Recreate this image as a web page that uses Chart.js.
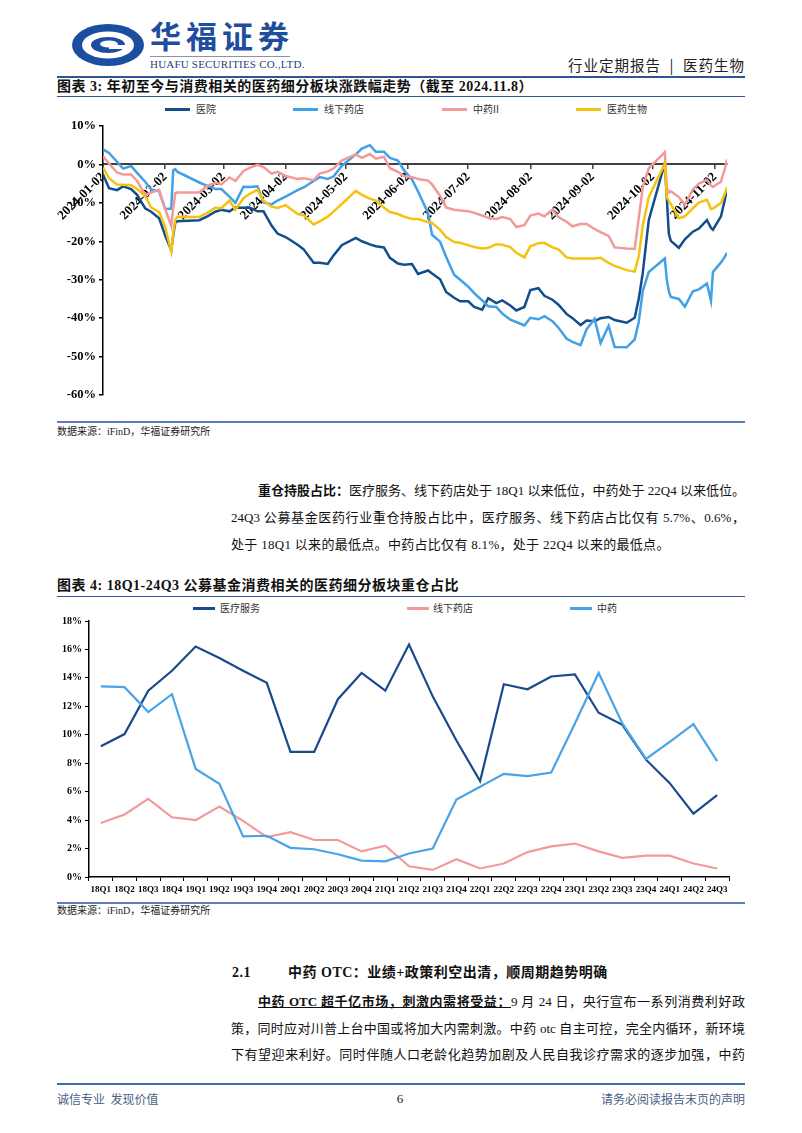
<!DOCTYPE html>
<html lang="zh-CN">
<head>
<meta charset="utf-8">
<title>医药生物 行业定期报告</title>
<script src="https://cdn.jsdelivr.net/npm/chart.js@4.4.1/dist/chart.umd.min.js"></script>
<style>
  body { margin: 0; background: #fff; }
  #page { position: relative; width: 802px; height: 1133px; overflow: hidden; background: #fff;
          font-family: "Liberation Serif", "Noto Sans CJK SC", serif; color: #111; }
  .t { position: absolute; white-space: nowrap; }
  .rule { position: absolute; left: 57px; width: 688px; background: #2f5597; }
  .cap { font-weight: 700; font-size: 14px; line-height: 18px; letter-spacing: 0.5px; }
  .lg { position: absolute; font-family: "Noto Sans CJK SC", sans-serif; font-size: 10px; line-height: 12px; color: #333; white-space: nowrap; }
  .lgline { position: absolute; height: 3px; }
  .src { font-size: 10px; line-height: 12px; color: #222; }
  .body { position: absolute; font-size: 13px; line-height: 18px; white-space: nowrap;
          text-align: justify; text-align-last: justify; }
  .foot { font-family: "Noto Sans CJK SC", sans-serif; font-size: 12px; line-height: 14px; color: #4a5f85; }
  canvas { position: absolute; }
</style>
</head>
<body>
<div id="page">
  <!-- header -->
  <svg class="t" style="left:71px;top:23px" width="74" height="44" viewBox="0 0 74 44">
    <ellipse cx="37" cy="22" rx="36" ry="21" fill="#1b4e9e"/>
    <ellipse cx="37" cy="22" rx="26" ry="13.5" fill="#fff"/>
    <ellipse cx="37" cy="22" rx="17" ry="8" fill="#1b4e9e"/>
    <ellipse cx="38" cy="21" rx="9" ry="3.5" fill="#fff"/>
    <rect x="38" y="22" width="16" height="4" fill="#fff"/>
  </svg>
  <div class="t" style="left:150px;top:17px;font-family:'Noto Sans CJK SC';font-weight:700;font-size:31px;line-height:36px;letter-spacing:5px;color:#1f4e9e">华福证券</div>
  <div class="t" style="left:150px;top:56px;width:140px;height:1px;background:#8a94a8"></div>
  <div class="t" style="left:150px;top:58px;font-size:11px;line-height:12px;letter-spacing:0.2px;color:#1f3f7f">HUAFU SECURITIES CO.,LTD.</div>
  <div class="t" style="left:545px;top:56px;width:200px;text-align:right;font-family:'Noto Sans CJK SC';font-size:14.5px;line-height:18px;letter-spacing:1px;color:#222">行业定期报告 &nbsp;|&nbsp; 医药生物</div>
  <div class="rule" style="top:76px;height:2px"></div>

  <!-- chart 3 -->
  <div class="t cap" style="left:57px;top:78px">图表 3: 年初至今与消费相关的医药细分板块涨跌幅走势（截至 2024.11.8）</div>
  <div class="rule" style="top:96px;height:1px"></div>
  <div class="lgline" style="left:165px;top:108px;width:25px;background:#124e8c"></div>
  <div class="lg" style="left:196px;top:103px">医院</div>
  <div class="lgline" style="left:293px;top:108px;width:25px;background:#41a0e6"></div>
  <div class="lg" style="left:324px;top:103px">线下药店</div>
  <div class="lgline" style="left:442px;top:108px;width:25px;background:#f29a9a"></div>
  <div class="lg" style="left:473px;top:103px">中药II</div>
  <div class="lgline" style="left:576px;top:108px;width:25px;background:#f5c211"></div>
  <div class="lg" style="left:607px;top:103px">医药生物</div>
  <canvas id="c1" width="690" height="295" style="left:55px;top:112px"></canvas>
  <div class="rule" style="top:421px;height:1.5px;background:#5b7fb5"></div>
  <div class="t src" style="left:57px;top:426px">数据来源：iFinD，华福证券研究所</div>

  <!-- paragraph -->
  <div class="body" style="left:258px;top:482px;width:487px"><b>重仓持股占比：</b>医疗服务、线下药店处于 18Q1 以来低位，中药处于 22Q4 以来低位。</div>
  <div class="body" style="left:231px;top:509px;width:514px">24Q3 公募基金医药行业重仓持股占比中，医疗服务、线下药店占比仅有 5.7%、0.6%，</div>
  <div class="body" style="left:231px;top:536px;text-align-last:left;letter-spacing:0.3px">处于 18Q1 以来的最低点。中药占比仅有 8.1%，处于 22Q4 以来的最低点。</div>

  <!-- chart 4 -->
  <div class="t cap" style="left:57px;top:577px">图表 4: 18Q1-24Q3 公募基金消费相关的医药细分板块重仓占比</div>
  <div class="rule" style="top:596px;height:1px"></div>
  <div class="lgline" style="left:193px;top:607px;width:22px;background:#1a4a8c"></div>
  <div class="lg" style="left:220px;top:602px">医疗服务</div>
  <div class="lgline" style="left:407px;top:607px;width:22px;background:#f29a9a"></div>
  <div class="lg" style="left:433px;top:602px">线下药店</div>
  <div class="lgline" style="left:570px;top:607px;width:22px;background:#4aa3e6"></div>
  <div class="lg" style="left:597px;top:602px">中药</div>
  <canvas id="c2" width="690" height="288" style="left:55px;top:612px"></canvas>
  <div class="rule" style="top:902px;height:1.5px;background:#5b7fb5"></div>
  <div class="t src" style="left:57px;top:905px">数据来源：iFinD，华福证券研究所</div>

  <!-- section 2.1 -->
  <div class="t cap" style="left:232px;top:964px">2.1</div>
  <div class="t cap" style="left:288px;top:964px">中药 OTC：业绩+政策利空出清，顺周期趋势明确</div>
  <div class="body" style="left:258px;top:993px;width:487px"><b style="text-decoration:underline">中药 OTC 超千亿市场，刺激内需将受益：</b>9 月 24 日，央行宣布一系列消费利好政</div>
  <div class="body" style="left:231px;top:1020px;width:514px">策，同时应对川普上台中国或将加大内需刺激。中药 otc 自主可控，完全内循环，新环境</div>
  <div class="body" style="left:231px;top:1046px;width:514px">下有望迎来利好。同时伴随人口老龄化趋势加剧及人民自我诊疗需求的逐步加强，中药</div>

  <!-- footer -->
  <div class="rule" style="top:1083px;height:1.5px;background:#3e6aa8"></div>
  <div class="t foot" style="left:57px;top:1092px">诚信专业&nbsp;&nbsp;发现价值</div>
  <div class="t" style="left:380px;top:1091px;width:40px;text-align:center;font-size:13px;line-height:16px;color:#222">6</div>
  <div class="t foot" style="left:545px;top:1092px;width:200px;text-align:right">请务必阅读报告末页的声明</div>
</div>

<script>
// ---- chart 3: year-to-date change, % ----
const tradeDates = [
  '2024-01-02','2024-01-05','2024-01-09','2024-01-12','2024-01-16','2024-01-19','2024-01-23','2024-01-26','2024-01-30',
  '2024-02-02','2024-02-05','2024-02-06','2024-02-07','2024-02-08','2024-02-19','2024-02-23','2024-02-27',
  '2024-03-01','2024-03-05','2024-03-08','2024-03-12','2024-03-15','2024-03-19','2024-03-22','2024-03-26','2024-03-29',
  '2024-04-02','2024-04-08','2024-04-11','2024-04-16','2024-04-19','2024-04-23','2024-04-26','2024-04-30',
  '2024-05-07','2024-05-10','2024-05-14','2024-05-17','2024-05-21','2024-05-24','2024-05-28','2024-05-31',
  '2024-06-04','2024-06-07','2024-06-12','2024-06-14','2024-06-18','2024-06-21','2024-06-25','2024-06-28',
  '2024-07-02','2024-07-05','2024-07-09','2024-07-12','2024-07-16','2024-07-19','2024-07-23','2024-07-26','2024-07-30',
  '2024-08-02','2024-08-06','2024-08-09','2024-08-13','2024-08-16','2024-08-20','2024-08-23','2024-08-27','2024-08-30',
  '2024-09-03','2024-09-06','2024-09-10','2024-09-13','2024-09-19','2024-09-23','2024-09-25','2024-09-27','2024-09-30',
  '2024-10-08','2024-10-09','2024-10-10','2024-10-11','2024-10-15','2024-10-18','2024-10-22','2024-10-25','2024-10-29','2024-10-31',
  '2024-11-01','2024-11-05','2024-11-07','2024-11-08'
];
const hospital = [
  -2.6,-6.2,-6.7,-5.7,-6.4,-7.9,-11.4,-12.3,-14.0,
  -18.5,-22.3,-18.5,-15.2,-14.8,-14.5,-13.5,-12.3,
  -11.8,-12.2,-11.2,-11.3,-11.2,-12.2,-12.2,-15.9,-18.0,
  -18.9,-20.9,-22.1,-25.6,-25.6,-25.9,-23.6,-21.0,
  -19.1,-20.0,-20.8,-21.3,-21.6,-24.3,-25.8,-26.1,
  -25.9,-28.5,-27.6,-28.4,-29.9,-33.2,-34.7,-35.6,
  -35.6,-37.1,-37.8,-34.8,-36.1,-35.4,-36.7,-38.0,-37.1,
  -32.7,-32.2,-34.2,-35.2,-36.5,-38.9,-40.0,-41.8,-40.6,
  -40.8,-40.0,-39.7,-40.5,-41.2,-39.9,-35.0,-28.3,-14.5,
  0.3,-8.6,-18.0,-19.9,-21.7,-19.5,-17.5,-16.7,-14.5,-16.5,
  -17.0,-13.5,-9.0,-6.3
];
const pharmacy = [
  3.9,3.0,0.7,-1.1,-0.4,-2.2,-4.5,-6.5,-7.0,
  -11.6,-11.5,-1.5,-1.2,-1.9,-4.7,-5.6,-6.4,
  -6.4,-8.4,-10.0,-5.8,-5.9,-5.7,-9.9,-10.4,-9.4,
  -8.4,-6.7,-6.0,-4.3,-3.3,-3.8,-3.1,-0.4,
  2.6,4.1,5.0,3.3,3.3,1.7,1.0,-1.5,
  -3.9,-7.0,-12.7,-18.3,-20.1,-24.0,-28.7,-30.0,
  -31.8,-33.5,-35.4,-36.9,-37.1,-38.8,-40.4,-41.0,-41.9,
  -39.9,-40.3,-39.5,-40.8,-42.5,-45.3,-46.2,-47.0,-42.9,
  -40.2,-46.5,-42.0,-47.5,-47.6,-45.5,-41.0,-33.0,-28.0,
  -24.5,-30.0,-33.0,-34.5,-35.0,-37.0,-33.0,-32.5,-31.0,-35.5,
  -28.0,-25.5,-24.0,-23.0
];
const tcm2 = [
  2.1,0.2,-2.1,-2.6,-2.6,-4.3,-7.9,-7.3,-6.6,
  -11.6,-16.0,-11.5,-7.5,-7.3,-7.3,-5.6,-4.8,
  -5.2,-3.4,-4.3,-1.7,-0.9,-0.1,-0.7,-2.4,-1.9,
  -3.0,-3.8,-3.6,-4.1,-2.4,-1.8,-1.0,1.0,
  2.6,1.7,2.7,1.5,2.0,-1.0,-1.9,-3.0,
  -3.3,-3.8,-4.2,-5.2,-8.2,-11.2,-11.8,-12.0,
  -12.2,-12.6,-13.3,-13.9,-14.2,-13.7,-14.2,-16.3,-15.8,
  -13.3,-12.8,-13.5,-11.8,-13.7,-14.9,-16.1,-15.5,-15.5,
  -16.8,-17.6,-18.6,-21.6,-21.9,-22.0,-14.0,-6.0,-1.0,
  3.2,-6.0,-7.3,-7.0,-8.5,-10.5,-6.5,-5.0,-4.0,-5.5,
  -5.8,-4.5,-1.0,1.3
];
const pharmaBio = [
  -0.8,-3.6,-5.2,-5.3,-5.4,-6.4,-8.2,-11.2,-12.4,
  -16.3,-22.7,-18.0,-14.5,-13.6,-13.7,-12.6,-11.3,
  -11.4,-9.4,-11.8,-8.8,-7.7,-6.6,-9.4,-11.0,-11.3,
  -10.6,-12.9,-13.2,-15.6,-14.8,-13.6,-12.2,-10.3,
  -6.9,-7.9,-8.9,-9.4,-11.2,-12.4,-12.9,-13.6,
  -14.2,-14.2,-15.0,-15.2,-17.0,-18.9,-20.2,-20.4,
  -21.0,-21.5,-21.9,-21.7,-20.8,-20.9,-21.5,-23.0,-24.2,
  -21.3,-20.5,-20.4,-21.6,-22.1,-24.2,-24.5,-24.5,-24.5,
  -24.5,-24.3,-25.6,-26.4,-27.5,-27.9,-24.0,-16.0,-8.5,
  0.2,-8.5,-9.5,-10.3,-14.0,-13.5,-11.4,-9.9,-9.2,-11.6,
  -11.5,-10.0,-7.5,-6.0
];
const monthTicks = ['2024-01-02','2024-02-02','2024-03-02','2024-04-02','2024-05-02','2024-06-02',
                    '2024-07-02','2024-08-02','2024-09-02','2024-10-02','2024-11-02'];
const startDate = '2024-01-02';
const endDate = '2024-11-08';

// ---- chart 4: share of heavy holdings, % ----
const quarters = ['18Q1','18Q2','18Q3','18Q4','19Q1','19Q2','19Q3','19Q4','20Q1','20Q2','20Q3','20Q4',
                  '21Q1','21Q2','21Q3','21Q4','22Q1','22Q2','22Q3','22Q4','23Q1','23Q2','23Q3','23Q4',
                  '24Q1','24Q2','24Q3'];
const medService = [9.2,10.05,13.1,14.5,16.2,15.4,14.5,13.65,8.8,8.8,12.5,14.35,
                    13.1,16.35,12.7,9.6,6.75,13.55,13.2,14.1,14.25,11.55,10.7,8.25,
                    6.6,4.45,5.75];
const drugstore = [3.8,4.4,5.5,4.2,4.0,4.95,3.95,2.8,3.15,2.6,2.6,1.8,
                   2.2,0.75,0.5,1.25,0.6,0.95,1.75,2.15,2.35,1.8,1.35,1.5,
                   1.5,0.95,0.6];
const tcm = [13.4,13.35,11.6,12.85,7.6,6.55,2.85,2.9,2.05,1.95,1.6,1.15,
             1.1,1.65,2.0,5.45,6.35,7.25,7.1,7.35,10.8,14.35,10.8,8.3,
             9.5,10.75,8.15];

const navy = '#124e8c';
const lightBlue = '#41a0e6';
const pink = '#f29a9a';
const gold = '#f5c211';
const serif = 'Liberation Serif';

const DAY = 86400000;
function dayOf(d) {
    return (Date.parse(d) - Date.parse(startDate)) / DAY;
}
function toPoints(values) {
    return tradeDates.map((d, i) => ({ x: dayOf(d), y: values[i] }));
}
function lineSet(label, values, color, order) {
    return { label: label, data: toPoints(values), borderColor: color, backgroundColor: color,
             borderWidth: 2.5, pointRadius: 0, tension: 0, order: order };
}

new Chart(document.getElementById('c1'), {
    type: 'line',
    data: {
        datasets: [
            lineSet('医院', hospital, navy, 3),
            lineSet('线下药店', pharmacy, lightBlue, 2),
            lineSet('中药II', tcm2, pink, 1),
            lineSet('医药生物', pharmaBio, gold, 0)
        ]
    },
    options: {
        responsive: false,
        animation: false,
        layout: { padding: { left: 0, right: 18, top: 14, bottom: 12 } },
        plugins: { legend: { display: false }, tooltip: { enabled: false } },
        scales: {
            x: {
                type: 'linear',
                min: dayOf(startDate),
                max: dayOf(endDate),
                position: { y: 0 },
                afterBuildTicks: scale => {
                    scale.ticks = monthTicks.map(d => ({ value: dayOf(d) }));
                },
                ticks: {
                    autoSkip: false,
                    minRotation: 45,
                    maxRotation: 45,
                    padding: 1,
                    color: '#000',
                    font: { family: serif, size: 13, weight: 'bold' },
                    callback: (value, index) => monthTicks[index]
                },
                grid: { drawOnChartArea: false, drawTicks: true, tickLength: 4, color: '#404040', lineWidth: 1.5 },
                border: { display: true, color: '#404040', width: 2 }
            },
            y: {
                min: -60,
                max: 10,
                ticks: {
                    stepSize: 10,
                    padding: 3,
                    color: '#000',
                    font: { family: serif, size: 12.5, weight: 'bold' },
                    callback: value => value + '%'
                },
                grid: { drawOnChartArea: false, drawTicks: true, tickLength: 4, color: '#000', lineWidth: 1.5 },
                border: { display: true, color: '#000', width: 1.5 },
                afterFit: scale => { scale.width = 48; }
            }
        }
    }
});

function quarterSet(label, values, color, order) {
    return { label: label, data: values, borderColor: color, backgroundColor: color,
             borderWidth: 2.2, pointRadius: 0, tension: 0, order: order };
}

new Chart(document.getElementById('c2'), {
    type: 'line',
    data: {
        labels: quarters,
        datasets: [
            quarterSet('医疗服务', medService, '#1a4a8c', 2),
            quarterSet('线下药店', drugstore, pink, 1),
            quarterSet('中药', tcm, '#4aa3e6', 0)
        ]
    },
    options: {
        responsive: false,
        animation: false,
        layout: { padding: { left: 0, right: 16, top: 9, bottom: 0 } },
        plugins: { legend: { display: false }, tooltip: { enabled: false } },
        scales: {
            x: {
                offset: true,
                ticks: {
                    autoSkip: false,
                    maxRotation: 0,
                    padding: 3,
                    color: '#000',
                    font: { family: serif, size: 9, weight: 'bold' }
                },
                grid: { offset: true, drawOnChartArea: false, drawTicks: true, tickLength: 4, color: '#000' },
                border: { display: true, color: '#000', width: 1.5 },
                afterFit: scale => { scale.height = 23; }
            },
            y: {
                min: 0,
                max: 18,
                ticks: {
                    stepSize: 2,
                    padding: 3,
                    color: '#000',
                    font: { family: serif, size: 10, weight: 'bold' },
                    callback: value => value + '%'
                },
                grid: { drawOnChartArea: false, drawTicks: true, tickLength: 4, color: '#000' },
                border: { display: true, color: '#000', width: 1.5 },
                afterFit: scale => { scale.width = 34; }
            }
        }
    }
});
</script>
</body>
</html>
